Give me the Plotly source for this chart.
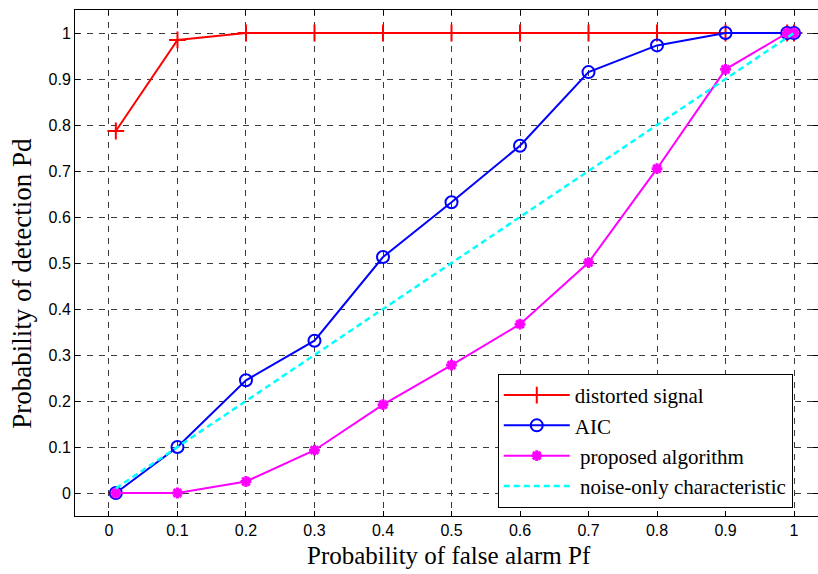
import plotly.graph_objects as go

pf = [0.01, 0.1, 0.2, 0.3, 0.4, 0.5, 0.6, 0.7, 0.8, 0.9, 0.99, 1.0]
pd_distorted = [0.787, 0.985, 1.0, 1.0, 1.0, 1.0, 1.0, 1.0, 1.0, 1.0, 1.0, 1.0]
pd_aic = [0.0, 0.1, 0.245, 0.331, 0.513, 0.632, 0.755, 0.915, 0.973, 1.0, 1.0, 1.0]
pd_proposed = [0.0, 0.0, 0.025, 0.093, 0.192, 0.278, 0.367, 0.501, 0.705, 0.921, 1.0, 1.0]
pd_noise = [0.01, 0.1, 0.2, 0.3, 0.4, 0.5, 0.6, 0.7, 0.8, 0.9, 0.99, 1.0]

tick_vals = [0, 0.1, 0.2, 0.3, 0.4, 0.5, 0.6, 0.7, 0.8, 0.9, 1.0]
tick_text = ["0", "0.1", "0.2", "0.3", "0.4", "0.5", "0.6", "0.7", "0.8", "0.9", "1"]

x_title = "Probability of false alarm Pf"
y_title = "Probability of detection Pd"

fig = go.Figure()
fig.add_trace(go.Scatter(x=pf, y=pd_distorted, mode="lines+markers", name="distorted signal",
                         line=dict(color="#FF0000", width=2),
                         marker=dict(symbol="cross-thin-open", size=12, line=dict(color="#FF0000", width=2))))
fig.add_trace(go.Scatter(x=pf, y=pd_aic, mode="lines+markers", name="AIC",
                         line=dict(color="#0000FF", width=2),
                         marker=dict(symbol="circle-open", size=12, color="#0000FF", line=dict(color="#0000FF", width=2))))
fig.add_trace(go.Scatter(x=pf, y=pd_proposed, mode="lines+markers", name=" proposed algorithm",
                         line=dict(color="#FF00FF", width=2),
                         marker=dict(symbol="asterisk-open", size=9, line=dict(color="#FF00FF", width=3))))
fig.add_trace(go.Scatter(x=pf, y=pd_noise, mode="lines", name=" noise-only characteristic",
                         line=dict(color="#00FFFF", width=2.5, dash="6px,4px")))

axis_common = dict(
    showline=True, linecolor="black", linewidth=1, mirror="ticks",
    ticks="inside", ticklen=5, tickcolor="black",
    showgrid=True, gridcolor="#3a3a3a", gridwidth=1, griddash="6px,6px",
    zeroline=False,
    tickvals=tick_vals, ticktext=tick_text,
    tickfont=dict(family="Liberation Sans, Arial", size=16, color="black"),
)

fig.update_xaxes(range=[-0.0496, 1.035], **axis_common)
fig.update_yaxes(range=[-0.05, 1.05], **axis_common)

title_font = dict(family="Liberation Serif, Times New Roman", color="black")
fig.add_annotation(text=x_title, xref="paper", yref="paper", x=0.504, y=-0.078,
                   xanchor="center", yanchor="middle", showarrow=False,
                   font=dict(size=25, **title_font))
fig.add_annotation(text=y_title, xref="paper", yref="paper", x=-0.0707, y=0.46,
                   xanchor="center", yanchor="middle", showarrow=False, textangle=-90,
                   font=dict(size=27, **title_font))

fig.update_layout(
    width=818, height=574,
    margin=dict(l=75, r=0, t=10, b=58, autoexpand=False),
    plot_bgcolor="white", paper_bgcolor="white",
    showlegend=True,
    legend=dict(x=0.569, y=0.016, xanchor="left", yanchor="bottom",
                bgcolor="white", bordercolor="black", borderwidth=1, itemwidth=66,
                font=dict(family="Liberation Serif, Times New Roman", size=21, color="black")),
)

fig.write_html("out.html")
